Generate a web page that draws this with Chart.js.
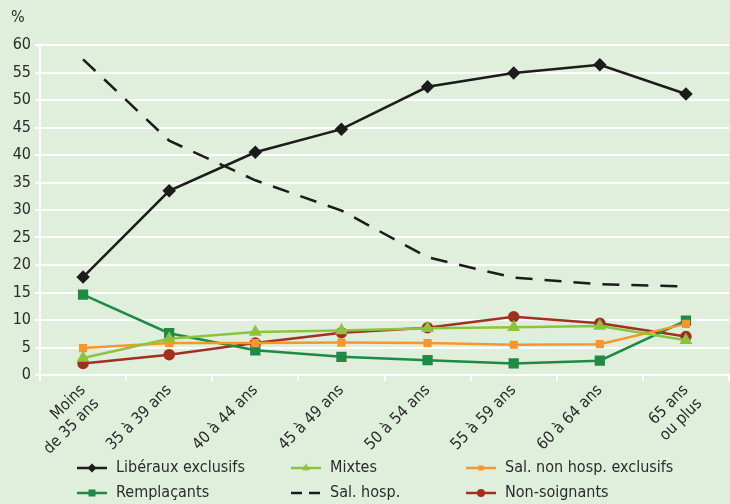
<!DOCTYPE html>
<html>
<head>
<meta charset="utf-8">
<script src="https://cdn.jsdelivr.net/npm/chart.js@4"></script>
<style>
  html, body { margin: 0; padding: 0; overflow: hidden; background: #dfefdc; }
  #wrap { width: 730px; height: 504px; position: relative; }
  #myChart { display: block; }
</style>
</head>
<body>
<div id="wrap"><canvas id="myChart"></canvas></div>
<script>
// categories and values
var ages = [['Moins', 'de 35 ans'], '35 à 39 ans', '40 à 44 ans', '45 à 49 ans', '50 à 54 ans', '55 à 59 ans', '60 à 64 ans', ['65 ans', 'ou plus']];
var liberaux = [17.8, 33.5, 40.5, 44.7, 52.4, 54.9, 56.4, 51.1];
var mixtes = [3.1, 6.6, 7.8, 8.1, 8.5, 8.7, 8.9, 6.3];
var salNonHosp = [4.9, 5.8, 5.8, 5.9, 5.8, 5.5, 5.6, 9.3];
var remplacants = [14.6, 7.6, 4.5, 3.3, 2.7, 2.1, 2.6, 9.9];
var salHosp = [57.4, 42.6, 35.4, 29.9, 21.4, 17.7, 16.5, 16.1];
var nonSoignants = [2.1, 3.7, 5.8, 7.7, 8.6, 10.6, 9.4, 7.0];
var yTicks = [0, 5, 10, 15, 20, 25, 30, 35, 40, 45, 50, 55, 60];

var font = '"Liberation Sans Narrow", "DejaVu Sans Condensed", "Liberation Sans", sans-serif';
var textColor = '#2b2b2b';

// legend drawn in 3 columns x 2 rows like the original
var legendGrid = {
  id: 'legendGrid',
  afterDraw: function (chart) {
    var c = chart.ctx;
    var cols = [77, 291, 466];
    var rows = [468, 493];
    c.save();
    c.font = '16px ' + font;
    c.textBaseline = 'middle';
    chart.data.datasets.forEach(function (ds, k) {
      var x = cols[k % 3], y = rows[Math.floor(k / 3)];
      c.strokeStyle = ds.borderColor;
      c.lineWidth = 2.5;
      c.setLineDash(ds.borderDash ? [11, 7] : []);
      c.beginPath();
      c.moveTo(x, y);
      c.lineTo(x + 30, y);
      c.stroke();
      c.setLineDash([]);
      if (ds.pointRadius > 0) {
        c.fillStyle = ds.borderColor;
        Chart.helpers.drawPoint(c, { pointStyle: ds.pointStyle, radius: ds.pointRadius * 0.9, borderWidth: 0 }, x + 15, y);
      }
      c.fillStyle = textColor;
      c.fillText(ds.label, x + 39, y);
    });
    // the % unit above the axis
    c.textAlign = 'left';
    c.fillText('%', 11, 18);
    c.restore();
  }
};

var ctx = document.getElementById('myChart').getContext('2d');
var chart = new Chart(ctx, {
  type: 'line',
  data: {
    labels: ages,
    datasets: [
      { label: 'Libéraux exclusifs', data: liberaux, borderColor: '#1c1c1c', backgroundColor: '#1c1c1c', pointStyle: 'rectRot', pointRadius: 5, borderWidth: 2.5 },
      { label: 'Mixtes', data: mixtes, borderColor: '#8cc43f', backgroundColor: '#8cc43f', pointStyle: 'triangle', pointRadius: 5, borderWidth: 2.5 },
      { label: 'Sal. non hosp. exclusifs', data: salNonHosp, borderColor: '#f7962b', backgroundColor: '#f7962b', pointStyle: 'rect', pointRadius: 4, borderWidth: 2.5 },
      { label: 'Remplaçants', data: remplacants, borderColor: '#1f8a43', backgroundColor: '#1f8a43', pointStyle: 'rect', pointRadius: 5.5, borderWidth: 2.5 },
      { label: 'Sal. hosp.', data: salHosp, borderColor: '#1c1c1c', backgroundColor: '#1c1c1c', borderDash: [17, 12], pointRadius: 0, borderWidth: 2.5 },
      { label: 'Non-soignants', data: nonSoignants, borderColor: '#a0301f', backgroundColor: '#a0301f', pointStyle: 'circle', pointRadius: 4.5, borderWidth: 2.5 }
    ]
  },
  options: {
    responsive: true,
    maintainAspectRatio: false,
    animation: false,
    layout: { autoPadding: false, padding: { left: 4, right: 1, top: 45, bottom: 50 } },
    plugins: {
      legend: { display: false },
      tooltip: { enabled: false }
    },
    elements: { line: { tension: 0 } },
    scales: {
      x: {
        offset: true,
        grid: { display: true, offset: true, drawOnChartArea: false, color: '#ffffff', lineWidth: 2, tickLength: 6 },
        border: { color: '#ffffff', width: 2 },
        ticks: { color: textColor, font: { family: font, size: 16 }, minRotation: 45, maxRotation: 45, padding: 0 },
        afterFit: function (s) { s.height = 79; s.paddingLeft = 0; s.paddingRight = 0; }
      },
      y: {
        min: 0,
        max: 60,
        afterBuildTicks: function (s) { s.ticks = yTicks.map(function (v) { return { value: v }; }); },
        grid: { color: '#ffffff', lineWidth: 2, drawTicks: true, tickLength: 5 },
        border: { color: '#ffffff', width: 2 },
        ticks: { color: textColor, font: { family: font, size: 16 }, padding: 4 },
        afterFit: function (s) { s.width = 36; }
      }
    }
  },
  plugins: [legendGrid]
});
</script>
</body>
</html>
